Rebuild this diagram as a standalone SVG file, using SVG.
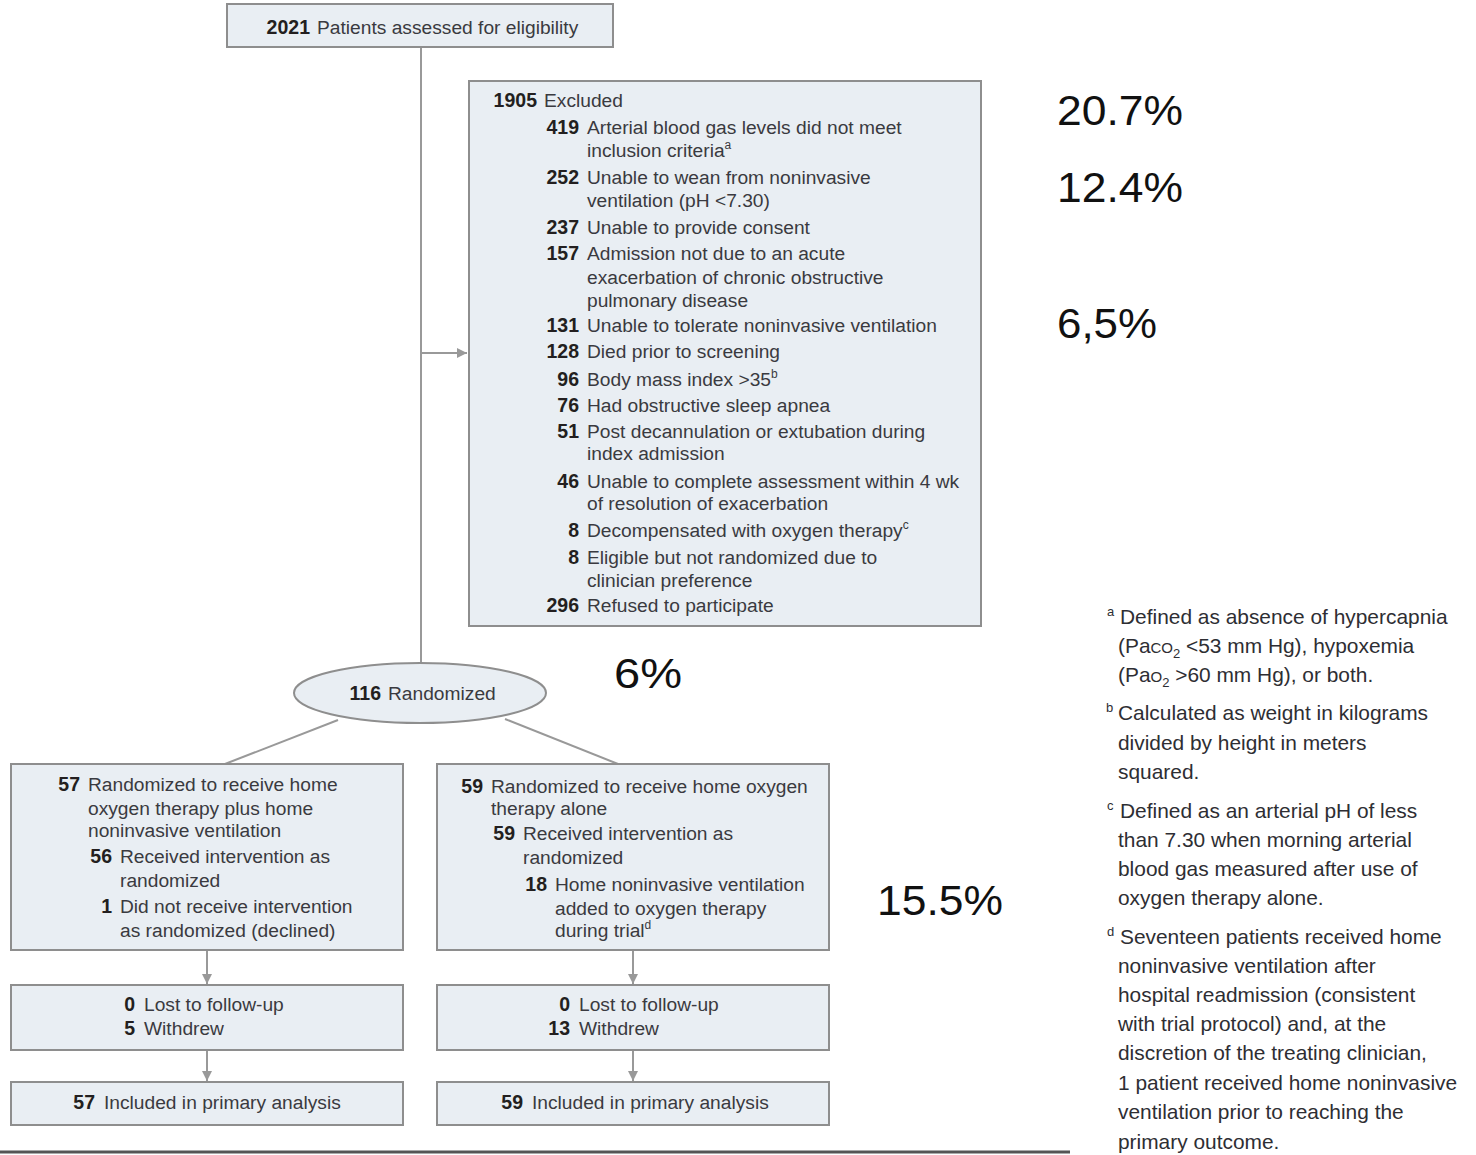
<svg xmlns="http://www.w3.org/2000/svg" width="1476" height="1155" viewBox="0 0 1476 1155">
<style>
.box{fill:#e9eef3;stroke:#8e8e8e;stroke-width:2}
.t{font-family:"Liberation Sans",Arial,sans-serif;font-size:19.2px;fill:#3a3a40}
.n{font-family:"Liberation Sans",Arial,sans-serif;font-size:19.5px;font-weight:bold;fill:#231f20;text-anchor:end}
.sup{font-size:12px}
.pct{font-family:"Liberation Sans",Arial,sans-serif;font-size:42px;fill:#111}
.fn{font-family:"Liberation Sans",Arial,sans-serif;font-size:20.9px;fill:#2e2e33}
.fl{font-family:"Liberation Sans",Arial,sans-serif;font-size:13px;fill:#2e2e33}
.ln{fill:none;stroke:#999;stroke-width:2}
</style>
<defs>
<marker id="arrH" viewBox="0 0 10 10" refX="10" refY="5" markerWidth="13" markerHeight="10" markerUnits="userSpaceOnUse" orient="auto">
<path d="M0,0 L10,5 L0,10 z" fill="#999"/>
</marker>
</defs>

<g id="connectors">
<line class="ln" x1="421" y1="47" x2="421" y2="664"/>
<line class="ln" x1="421" y1="353" x2="467" y2="353" marker-end="url(#arrH)"/>
<line class="ln" x1="338" y1="720" x2="225" y2="764"/>
<line class="ln" x1="505" y1="719" x2="618" y2="764"/>
<line class="ln" x1="207" y1="950" x2="207" y2="984" marker-end="url(#arrH)"/>
<line class="ln" x1="633" y1="950" x2="633" y2="984" marker-end="url(#arrH)"/>
<line class="ln" x1="207" y1="1050" x2="207" y2="1081" marker-end="url(#arrH)"/>
<line class="ln" x1="633" y1="1050" x2="633" y2="1081" marker-end="url(#arrH)"/>
</g>

<g id="assessed">
<rect class="box" x="227" y="4" width="386" height="43"/>
<text class="n" x="310" y="34">2021</text>
<text class="t" x="317" y="34">Patients assessed for eligibility</text>
</g>

<g id="excluded">
<rect class="box" x="469" y="81" width="512" height="545"/>
<text class="n" x="537" y="107">1905</text><text class="t" x="544" y="107">Excluded</text>
<text class="n" x="579" y="134">419</text><text class="t" x="587" y="134">Arterial blood gas levels did not meet</text>
<text class="t" x="587" y="157">inclusion criteria<tspan class="sup" dy="-8">a</tspan></text>
<text class="n" x="579" y="184">252</text><text class="t" x="587" y="184">Unable to wean from noninvasive</text>
<text class="t" x="587" y="207">ventilation (pH &lt;7.30)</text>
<text class="n" x="579" y="234">237</text><text class="t" x="587" y="234">Unable to provide consent</text>
<text class="n" x="579" y="260">157</text><text class="t" x="587" y="260">Admission not due to an acute</text>
<text class="t" x="587" y="284">exacerbation of chronic obstructive</text>
<text class="t" x="587" y="307">pulmonary disease</text>
<text class="n" x="579" y="332">131</text><text class="t" x="587" y="332">Unable to tolerate noninvasive ventilation</text>
<text class="n" x="579" y="358">128</text><text class="t" x="587" y="358">Died prior to screening</text>
<text class="n" x="579" y="386">96</text><text class="t" x="587" y="386">Body mass index &gt;35<tspan class="sup" dy="-8">b</tspan></text>
<text class="n" x="579" y="412">76</text><text class="t" x="587" y="412">Had obstructive sleep apnea</text>
<text class="n" x="579" y="438">51</text><text class="t" x="587" y="438">Post decannulation or extubation during</text>
<text class="t" x="587" y="460">index admission</text>
<text class="n" x="579" y="488">46</text><text class="t" x="587" y="488">Unable to complete assessment within 4 wk</text>
<text class="t" x="587" y="510">of resolution of exacerbation</text>
<text class="n" x="579" y="537">8</text><text class="t" x="587" y="537">Decompensated with oxygen therapy<tspan class="sup" dy="-8">c</tspan></text>
<text class="n" x="579" y="564">8</text><text class="t" x="587" y="564">Eligible but not randomized due to</text>
<text class="t" x="587" y="587">clinician preference</text>
<text class="n" x="579" y="612">296</text><text class="t" x="587" y="612">Refused to participate</text>
</g>

<g id="randomized">
<ellipse class="box" cx="420" cy="693" rx="126" ry="30"/>
<text class="n" x="381" y="700">116</text>
<text class="t" x="388" y="700">Randomized</text>
</g>

<g id="arm-niv">
<rect class="box" x="11" y="764" width="392" height="186"/>
<text class="n" x="80" y="791">57</text><text class="t" x="88" y="791">Randomized to receive home</text>
<text class="t" x="88" y="815">oxygen therapy plus home</text>
<text class="t" x="88" y="837">noninvasive ventilation</text>
<text class="n" x="112" y="863">56</text><text class="t" x="120" y="863">Received intervention as</text>
<text class="t" x="120" y="887">randomized</text>
<text class="n" x="112" y="913">1</text><text class="t" x="120" y="913">Did not receive intervention</text>
<text class="t" x="120" y="937">as randomized (declined)</text>
</g>

<g id="arm-oxygen">
<rect class="box" x="437" y="764" width="392" height="186"/>
<text class="n" x="483" y="793">59</text><text class="t" x="491" y="793">Randomized to receive home oxygen</text>
<text class="t" x="491" y="815">therapy alone</text>
<text class="n" x="515" y="840">59</text><text class="t" x="523" y="840">Received intervention as</text>
<text class="t" x="523" y="864">randomized</text>
<text class="n" x="547" y="891">18</text><text class="t" x="555" y="891">Home noninvasive ventilation</text>
<text class="t" x="555" y="915">added to oxygen therapy</text>
<text class="t" x="555" y="937">during trial<tspan class="sup" dy="-8">d</tspan></text>
</g>

<g id="followup-niv">
<rect class="box" x="11" y="985" width="392" height="65"/>
<text class="n" x="135" y="1011">0</text><text class="t" x="144" y="1011">Lost to follow-up</text>
<text class="n" x="135" y="1035">5</text><text class="t" x="144" y="1035">Withdrew</text>
</g>

<g id="followup-oxygen">
<rect class="box" x="437" y="985" width="392" height="65"/>
<text class="n" x="570" y="1011">0</text><text class="t" x="579" y="1011">Lost to follow-up</text>
<text class="n" x="570" y="1035">13</text><text class="t" x="579" y="1035">Withdrew</text>
</g>

<g id="analysis-niv">
<rect class="box" x="11" y="1082" width="392" height="43"/>
<text class="n" x="95" y="1109">57</text><text class="t" x="104" y="1109">Included in primary analysis</text>
</g>

<g id="analysis-oxygen">
<rect class="box" x="437" y="1082" width="392" height="43"/>
<text class="n" x="523" y="1109">59</text><text class="t" x="532" y="1109">Included in primary analysis</text>
</g>

<line x1="0" y1="1152" x2="1070" y2="1152" stroke="#555" stroke-width="3"/>

<g id="percentages">
<text class="pct" x="1057" y="125" textLength="126" lengthAdjust="spacingAndGlyphs">20.7%</text>
<text class="pct" x="1057" y="202" textLength="126" lengthAdjust="spacingAndGlyphs">12.4%</text>
<text class="pct" x="1057" y="338" textLength="100" lengthAdjust="spacingAndGlyphs">6,5%</text>
<text class="pct" x="614" y="688" textLength="68" lengthAdjust="spacingAndGlyphs">6%</text>
<text class="pct" x="877" y="915" textLength="126" lengthAdjust="spacingAndGlyphs">15.5%</text>
</g>

<g id="footnotes">
<text class="fl" x="1107" y="616">a</text>
<text class="fn" x="1120" y="624">Defined as absence of hypercapnia</text>
<text class="fn" x="1118" y="653">(Pa<tspan font-size="15px">CO</tspan><tspan font-size="13px" dy="5">2</tspan><tspan dy="-5"> &lt;53 mm Hg), hypoxemia</tspan></text>
<text class="fn" x="1118" y="682">(Pa<tspan font-size="15px">O</tspan><tspan font-size="13px" dy="5">2</tspan><tspan dy="-5"> &gt;60 mm Hg), or both.</tspan></text>
<text class="fl" x="1106" y="712">b</text>
<text class="fn" x="1118" y="720">Calculated as weight in kilograms</text>
<text class="fn" x="1118" y="750">divided by height in meters</text>
<text class="fn" x="1118" y="779">squared.</text>
<text class="fl" x="1107" y="810">c</text>
<text class="fn" x="1120" y="818">Defined as an arterial pH of less</text>
<text class="fn" x="1118" y="847">than 7.30 when morning arterial</text>
<text class="fn" x="1118" y="876">blood gas measured after use of</text>
<text class="fn" x="1118" y="905">oxygen therapy alone.</text>
<text class="fl" x="1107" y="936">d</text>
<text class="fn" x="1120" y="944">Seventeen patients received home</text>
<text class="fn" x="1118" y="973">noninvasive ventilation after</text>
<text class="fn" x="1118" y="1002">hospital readmission (consistent</text>
<text class="fn" x="1118" y="1031">with trial protocol) and, at the</text>
<text class="fn" x="1118" y="1060">discretion of the treating clinician,</text>
<text class="fn" x="1118" y="1090">1 patient received home noninvasive</text>
<text class="fn" x="1118" y="1119">ventilation prior to reaching the</text>
<text class="fn" x="1118" y="1149">primary outcome.</text>
</g>
</svg>
